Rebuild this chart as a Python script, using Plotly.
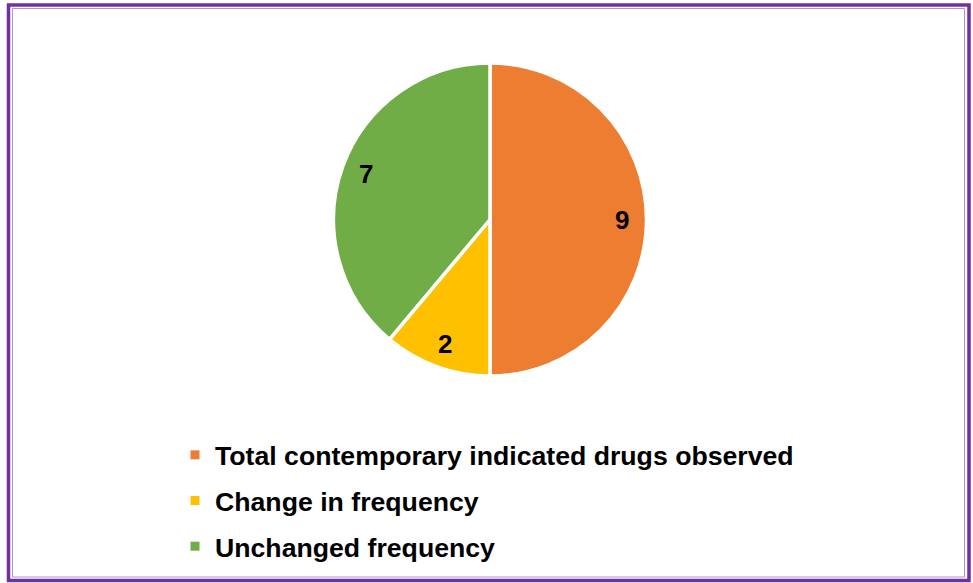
import numpy as np
import plotly.graph_objects as go

# Drug observation counts
categories = [
    "Total contemporary indicated drugs observed",
    "Change in frequency",
    "Unchanged frequency",
]
counts = [9, 2, 7]
colors = ["#ED7D31", "#FFC000", "#70AD47"]

W, H = 973, 583
cx, cy, r = 490, 219.5, 156.5
label_radius = 0.845  # value labels sit near the outer edge of each slice

fig = go.Figure()

fig.add_trace(go.Pie(
    labels=categories,
    values=counts,
    sort=False,
    direction="clockwise",
    rotation=0,
    marker=dict(colors=colors, line=dict(color="white", width=3.5)),
    textinfo="none",
    domain=dict(x=[(cx - r) / W, (cx + r) / W], y=[1 - (cy + r) / H, 1 - (cy - r) / H]),
    showlegend=False,
    hoverinfo="label+value",
))

# Value labels placed at each slice's mid-angle (clockwise from 12 o'clock)
vals = np.array(counts, dtype=float)
ends = np.cumsum(vals) / vals.sum()
mids = (ends - vals / vals.sum() / 2) * 2 * np.pi
annotations = []
for v, a in zip(counts, mids):
    px = cx + label_radius * r * np.sin(a)
    py = cy - label_radius * r * np.cos(a)
    annotations.append(dict(
        x=px / W, y=1 - py / H, xref="paper", yref="paper",
        text=str(v), showarrow=False, xanchor="center", yanchor="middle",
        font=dict(family="Liberation Sans, Arial", size=26, color="black", weight="bold"),
    ))

# Legend entries, one group each so the rows can be spaced apart
for i, (name, col) in enumerate(zip(categories, colors)):
    fig.add_trace(go.Scatter(
        x=[None], y=[None], mode="markers", name=name,
        marker=dict(symbol="square", size=9, color=col),
        legendgroup=f"g{i}", showlegend=True,
    ))

fig.update_layout(
    width=W, height=H,
    margin=dict(l=0, r=0, t=0, b=0),
    paper_bgcolor="white", plot_bgcolor="white",
    xaxis=dict(visible=False), yaxis=dict(visible=False),
    annotations=annotations,
    legend=dict(
        x=175 / W, y=1 - 431 / H, xanchor="left", yanchor="top",
        font=dict(family="Liberation Sans, Arial", size=26.67, color="black", weight="bold"),
        tracegroupgap=8, bgcolor="rgba(0,0,0,0)",
    ),
    shapes=[
        dict(type="rect", xref="paper", yref="paper",
             x0=8.5 / W, x1=969 / W, y0=1 - 580.5 / H, y1=1 - 5 / H,
             line=dict(color="#7030A0", width=3.5)),
        dict(type="rect", xref="paper", yref="paper",
             x0=12.5 / W, x1=964.5 / W, y0=1 - 577 / H, y1=1 - 8.5 / H,
             line=dict(color="#B48FD3", width=1)),
    ],
)

fig.write_html("out.html")
